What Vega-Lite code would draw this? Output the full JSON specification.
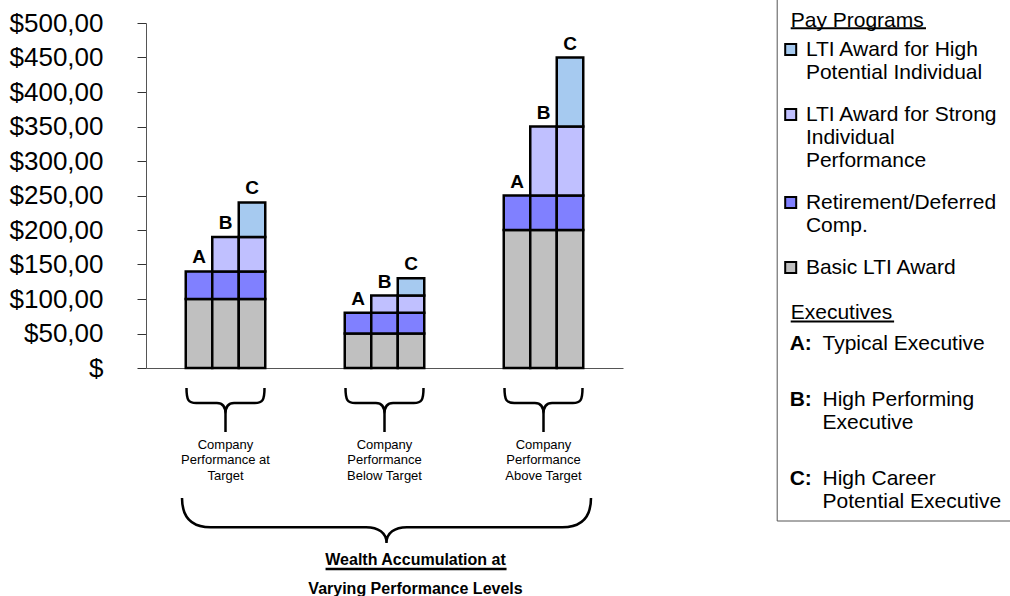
{
  "$schema": "https://vega.github.io/schema/vega-lite/v6.json",
  "width": 477,
  "height": 345,
  "autosize": {"type": "none"},
  "padding": {"left": 146, "top": 23, "right": 387, "bottom": 228},
  "background": "white",
  "config": {"font": "Liberation Sans", "view": {"stroke": null}, "axisY": {"labelOverlap": false}},
  "title": {
    "text": ["Wealth Accumulation at", "Varying Performance Levels"],
    "orient": "bottom", "anchor": "middle", "frame": "group", "baseline": "top",
    "fontSize": 16, "fontWeight": "bold", "lineHeight": 29, "color": "black",
    "offset": -22, "dx": 31
  },
  "data": {"values": [
    {"group": "Company Performance at Target", "exec": "A", "program": "Basic LTI Award", "tier": 1, "value": 100},
    {"group": "Company Performance at Target", "exec": "A", "program": "Retirement/Deferred Comp.", "tier": 2, "value": 40},
    {"group": "Company Performance at Target", "exec": "B", "program": "Basic LTI Award", "tier": 1, "value": 100},
    {"group": "Company Performance at Target", "exec": "B", "program": "Retirement/Deferred Comp.", "tier": 2, "value": 40},
    {"group": "Company Performance at Target", "exec": "B", "program": "LTI Award for Strong Individual Performance", "tier": 3, "value": 50},
    {"group": "Company Performance at Target", "exec": "C", "program": "Basic LTI Award", "tier": 1, "value": 100},
    {"group": "Company Performance at Target", "exec": "C", "program": "Retirement/Deferred Comp.", "tier": 2, "value": 40},
    {"group": "Company Performance at Target", "exec": "C", "program": "LTI Award for Strong Individual Performance", "tier": 3, "value": 50},
    {"group": "Company Performance at Target", "exec": "C", "program": "LTI Award for High Potential Individual", "tier": 4, "value": 50},
    {"group": "Company Performance Below Target", "exec": "A", "program": "Basic LTI Award", "tier": 1, "value": 50},
    {"group": "Company Performance Below Target", "exec": "A", "program": "Retirement/Deferred Comp.", "tier": 2, "value": 30},
    {"group": "Company Performance Below Target", "exec": "B", "program": "Basic LTI Award", "tier": 1, "value": 50},
    {"group": "Company Performance Below Target", "exec": "B", "program": "Retirement/Deferred Comp.", "tier": 2, "value": 30},
    {"group": "Company Performance Below Target", "exec": "B", "program": "LTI Award for Strong Individual Performance", "tier": 3, "value": 25},
    {"group": "Company Performance Below Target", "exec": "C", "program": "Basic LTI Award", "tier": 1, "value": 50},
    {"group": "Company Performance Below Target", "exec": "C", "program": "Retirement/Deferred Comp.", "tier": 2, "value": 30},
    {"group": "Company Performance Below Target", "exec": "C", "program": "LTI Award for Strong Individual Performance", "tier": 3, "value": 25},
    {"group": "Company Performance Below Target", "exec": "C", "program": "LTI Award for High Potential Individual", "tier": 4, "value": 25},
    {"group": "Company Performance Above Target", "exec": "A", "program": "Basic LTI Award", "tier": 1, "value": 200},
    {"group": "Company Performance Above Target", "exec": "A", "program": "Retirement/Deferred Comp.", "tier": 2, "value": 50},
    {"group": "Company Performance Above Target", "exec": "B", "program": "Basic LTI Award", "tier": 1, "value": 200},
    {"group": "Company Performance Above Target", "exec": "B", "program": "Retirement/Deferred Comp.", "tier": 2, "value": 50},
    {"group": "Company Performance Above Target", "exec": "B", "program": "LTI Award for Strong Individual Performance", "tier": 3, "value": 100},
    {"group": "Company Performance Above Target", "exec": "C", "program": "Basic LTI Award", "tier": 1, "value": 200},
    {"group": "Company Performance Above Target", "exec": "C", "program": "Retirement/Deferred Comp.", "tier": 2, "value": 50},
    {"group": "Company Performance Above Target", "exec": "C", "program": "LTI Award for Strong Individual Performance", "tier": 3, "value": 100},
    {"group": "Company Performance Above Target", "exec": "C", "program": "LTI Award for High Potential Individual", "tier": 4, "value": 100}
  ]},
  "layer": [
    {
      "mark": {"type": "bar", "stroke": "black", "strokeWidth": 2.5, "strokeJoin": "miter"},
      "encoding": {
        "x": {
          "field": "group", "type": "nominal", "title": null,
          "sort": ["Company Performance at Target", "Company Performance Below Target", "Company Performance Above Target"],
          "scale": {"paddingInner": 0.5, "paddingOuter": 0.25},
          "axis": {
            "ticks": false, "domainColor": "#555", "labelFontSize": 13, "labelColor": "black",
            "labelPadding": 70, "labelLineHeight": 15.5, "labelAngle": 0, "labelLimit": 200,
            "labelExpr": "datum.label == 'Company Performance at Target' ? ['Company', 'Performance at', 'Target'] : datum.label == 'Company Performance Below Target' ? ['Company', 'Performance', 'Below Target'] : ['Company', 'Performance', 'Above Target']"
          }
        },
        "xOffset": {"field": "exec", "type": "nominal", "scale": {"paddingInner": 0, "paddingOuter": 0}},
        "y": {
          "field": "value", "type": "quantitative", "stack": "zero", "title": null,
          "scale": {"domain": [0, 500], "nice": false},
          "axis": {
            "values": [0, 50, 100, 150, 200, 250, 300, 350, 400, 450, 500], "tickCount": 11,
            "grid": false, "domainColor": "#555", "tickColor": "#333", "tickSize": 9,
            "labelFontSize": 26, "labelColor": "black", "labelPadding": 34, "labelOverlap": false, "labelSeparation": 0,
            "labelExpr": "datum.value == 0 ? '$' : '$' + replace(format(datum.value, '.2f'), '.', ',')",
            "encode": {"labels": {"update": {"dx": {"signal": "datum.value == 0 ? 4 : 0"}}}}
          }
        },
        "color": {
          "field": "program", "type": "nominal",
          "scale": {
            "domain": ["LTI Award for High Potential Individual", "LTI Award for Strong Individual Performance", "Retirement/Deferred Comp.", "Basic LTI Award"],
            "range": ["#A6CAF0", "#C0C0FF", "#8080FF", "#C0C0C0"]
          },
          "legend": {
            "title": "Pay Programs",
            "orient": "none", "legendX": 630.7, "legendY": -27.5, "direction": "vertical",
            "padding": 14, "strokeColor": "#555",
            "titleFontSize": 21, "titleFontWeight": "normal", "titleColor": "black", "titlePadding": 8.5,
            "labelFontSize": 21, "labelColor": "black", "labelLimit": 400, "labelOffset": 4.7,
            "symbolType": "square", "symbolSize": 121, "symbolStrokeWidth": 2, "symbolStrokeColor": "black", "symbolOffset": -10.5,
            "rowPadding": 20,
            "labelExpr": "datum.label == 'LTI Award for High Potential Individual' ? ['LTI Award for High', 'Potential Individual'] : datum.label == 'LTI Award for Strong Individual Performance' ? ['LTI Award for Strong', 'Individual', 'Performance'] : datum.label == 'Retirement/Deferred Comp.' ? ['Retirement/Deferred', 'Comp.'] : datum.label",
            "encode": {
              "symbols": {"update": {
                "shape": {"signal": "datum.value == 'LTI Award for High Potential Individual' ? 'M -1 -1 H 1 V 1 H -1 Z M 0 -3.85 H 24.6' : datum.value == 'Basic LTI Award' ? 'M -1 -1 H 1 V 1 H -1 Z M 0 42.7 L 0 42.7' : 'square'"}
              }}
            }
          }
        },
        "order": {"field": "tier", "type": "quantitative"}
      }
    },
    {
      "transform": [
        {"aggregate": [{"op": "sum", "field": "value", "as": "total"}], "groupby": ["group", "exec"]},
        {"lookup": "exec", "from": {"data": {"values": [
          {"exec": "A", "desc": "Typical Executive"},
          {"exec": "B", "desc": "High Performing Executive"},
          {"exec": "C", "desc": "High Career Potential Executive"}
        ]}, "key": "exec", "fields": ["desc"]}}
      ],
      "mark": {"type": "text", "baseline": "alphabetic", "dy": -8, "fontSize": 19, "fontWeight": "bold", "strokeWidth": 0},
      "encoding": {
        "x": {"field": "group", "type": "nominal", "title": null, "sort": ["Company Performance at Target", "Company Performance Below Target", "Company Performance Above Target"]},
        "xOffset": {"field": "exec", "type": "nominal"},
        "y": {"field": "total", "type": "quantitative", "title": null},
        "text": {"field": "exec"},
        "fill": {
          "field": "exec", "type": "nominal",
          "scale": {"range": ["black", "black", "black"]},
          "legend": {
            "title": null, "orient": "none", "legendX": 622.7, "legendY": 310.5,
            "padding": 0, "symbolSize": 0, "symbolOpacity": 0,
            "labelFontSize": 21, "labelFontWeight": "bold", "labelColor": "black", "labelOffset": 0,
            "rowPadding": 34,
            "labelExpr": "datum.label == 'B' ? ['B:', ''] : datum.label + ':'"
          }
        },
        "stroke": {
          "field": "desc", "type": "nominal",
          "scale": {"domain": ["Typical Executive", "High Performing Executive", "High Career Potential Executive"], "range": ["black", "black", "black"]},
          "legend": {
            "title": "Executives", "orient": "none", "legendX": 644.7, "legendY": 279,
            "padding": 0,
            "titleFontSize": 21, "titleFontWeight": "normal", "titleColor": "black", "titlePadding": 10.5,
            "labelFontSize": 21, "labelColor": "black", "labelLimit": 400, "labelOffset": 21.3,
            "symbolSize": 121, "symbolStrokeWidth": 2, "symbolStrokeColor": "black", "symbolFillColor": "transparent", "symbolOffset": -10.5,
            "rowPadding": 34,
            "labelExpr": "datum.label == 'High Performing Executive' ? ['High Performing', 'Executive'] : datum.label == 'High Career Potential Executive' ? ['High Career', 'Potential Executive'] : datum.label",
            "encode": {
              "symbols": {"update": {
                "shape": {"signal": "datum.value == 'Typical Executive' ? 'M 0 -4.1 H 18.8' : 'M 0 0 L 0 0'"},
                "strokeWidth": {"value": 2},
                "stroke": {"value": "black"},
                "fill": {"value": "transparent"}
              }}
            }
          }
        }
      }
    },
    {
      "transform": [{"aggregate": [{"op": "count", "as": "n"}], "groupby": ["group"]}],
      "mark": {
        "type": "point", "filled": false, "stroke": "black", "strokeWidth": 2.5, "opacity": 1,
        "size": 6084, "yOffset": 42,
        "shape": "M -1 -0.564 C -1 -0.25 -0.95 -0.18 -0.75 -0.18 L -0.22 -0.18 C -0.06 -0.18 0 -0.08 0 0.1 L 0 0.564 M 0 0.1 C 0 -0.08 0.06 -0.18 0.22 -0.18 L 0.75 -0.18 C 0.95 -0.18 1 -0.25 1 -0.564"
      },
      "encoding": {
        "x": {"field": "group", "type": "nominal", "title": null, "sort": ["Company Performance at Target", "Company Performance Below Target", "Company Performance Above Target"]},
        "y": {"datum": 0, "type": "quantitative"}
      }
    },
    {
      "transform": [{"aggregate": [{"op": "count", "as": "n"}]}],
      "mark": {
        "type": "point", "filled": false, "stroke": "black", "strokeWidth": 2.5, "opacity": 1,
        "size": 167281, "yOffset": 152.5, "xOffset": 2,
        "shape": "M -1 -0.11 C -1 -0.02 -0.96 0.033 -0.86 0.033 L -0.1 0.033 C -0.04 0.033 0 0.06 0 0.11 C 0 0.06 0.04 0.033 0.1 0.033 L 0.86 0.033 C 0.96 0.033 1 -0.02 1 -0.11 M -0.298 0.2372 H 0.587"
      },
      "encoding": {
        "y": {"datum": 0, "type": "quantitative"}
      }
    }
  ]
}
